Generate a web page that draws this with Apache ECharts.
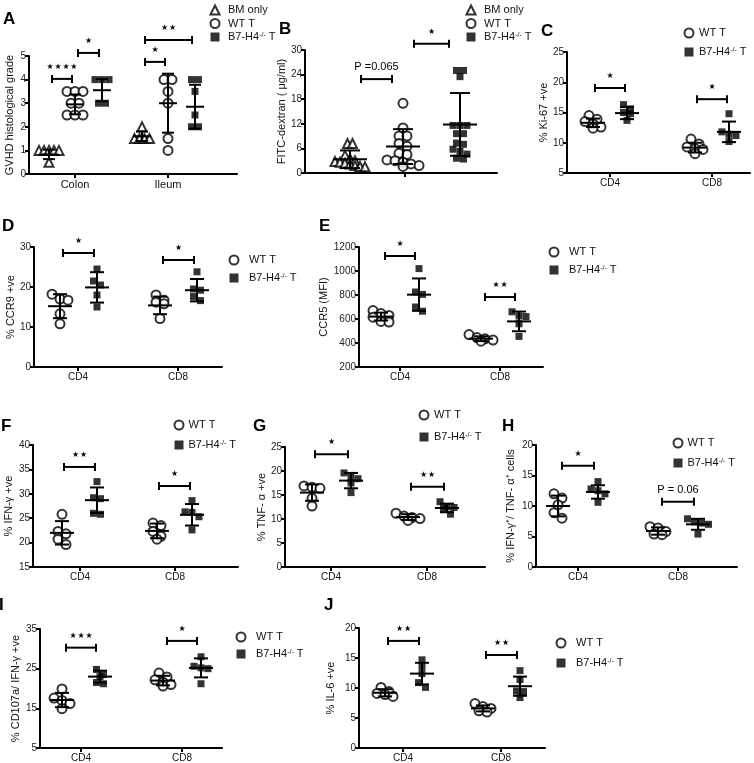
<!DOCTYPE html>
<html><head><meta charset="utf-8">
<script src="https://cdn.jsdelivr.net/npm/echarts@6/dist/echarts.min.js"></script>
<style>html,body{margin:0;padding:0;background:#fff}#c{width:754px;height:763px}</style>
</head><body><div id="c"></div>
<script>
// ================= DATA =================
const groupNames = ['BM only', 'WT T', 'B7-H4-/- T'];

// A
const aCategories = ['Colon', 'Ileum'];
const aBMOnly = [[1, 1, 1, 1, 1, 0.5], [2, 1.5, 1.5, 1.5, 1.5]];
const aWT = [[3.5, 3.5, 3.5, 3, 3, 2.5, 2.5, 2.5], [4, 4, 3.5, 3, 1.5, 1]];
const aB7 = [[4, 4, 4, 3, 3], [4, 4, 3.5, 2.5, 2, 2]];
const aMean = [[0.83, 1.6], [2.95, 3.0], [3.55, 2.85]];
const aSd = [[0.2, 0.2], [0.42, 1.25], [0.47, 0.93]];
const aYTicks = [0, 1, 2, 3, 4, 5];
const aSig = [[0, 0, 1, 4.03, '★★★★'], [0, 1, 2, 5.13, '★'], [1, 0, 1, 4.75, '★'], [1, 0, 2, 5.68, '★★']];

// B
const bCategories = [''];
const bBMOnly = [[7.2, 7.2, 4.3, 3.5, 3.0, 2.8, 2.6, 2.4, 2.2, 1.8, 1.6, 1.5]];
const bWT = [[17, 11, 9, 9, 7.2, 6.5, 4.8, 4.5, 3.2, 3.0, 2.6, 2.2, 1.8, 1.6]];
const bB7 = [[25, 25, 23.5, 11.6, 11.6, 11.6, 9.6, 9.6, 7.3, 7.0, 5.8, 5.3, 4.6, 3.6, 3.4]];
const bMean = [[3.35], [6.45], [11.85]];
const bSd = [[2.15], [4.25], [7.65]];
const bYTicks = [0, 6, 12, 18, 24, 30];
const bSig = [[0, 0, 1, 22.9, 'P =0.065'], [0, 1, 2, 31.5, '★']];

// C
const cCategories = ['CD4', 'CD8'];
const cWT = [[14.5, 13.9, 13.5, 13.1, 12.6, 12.4], [10.6, 9.8, 9.3, 9.0, 8.9, 8.2]];
const cB7 = [[16.3, 15.6, 15.0, 14.8, 13.7], [14.8, 11.8, 11.4, 11.2, 10.2]];
const cMean = [[13.3, 9.2], [14.9, 11.8]];
const cSd = [[0.7, 0.8], [1.0, 1.7]];
const cYTicks = [5, 10, 15, 20, 25];
const cSig = [[0, 0, 1, 19.05, '★'], [1, 0, 1, 17.2, '★']];

// D
const dCategories = ['CD4', 'CD8'];
const dWT = [[18.2, 17, 16.7, 13.3, 10.8], [18, 16.7, 16.2, 15.8, 12.1]];
const dB7 = [[24.5, 21.5, 20.5, 18, 15], [23.8, 19.5, 19.2, 17.6, 16.6]];
const dMean = [[15.2, 15.4], [19.9, 19.2]];
const dSd = [[3.0, 2.2], [3.8, 2.8]];
const dYTicks = [0, 10, 20, 30];
const dSig = [[0, 0, 1, 28.5, '★'], [1, 0, 1, 26.75, '★']];

// E
const eCategories = ['CD4', 'CD8'];
const eWT = [[670, 645, 630, 615, 580, 575], [470, 445, 435, 425, 415]];
const eB7 = [[1020, 825, 805, 700, 665], [660, 625, 620, 560, 455]];
const eMean = [[620, 436], [803, 580]];
const eSd = [[33, 20], [135, 82]];
const eYTicks = [200, 400, 600, 800, 1000, 1200];
const eSig = [[0, 0, 1, 1125, '★'], [1, 0, 1, 783, '★★']];

// F
const fCategories = ['CD4', 'CD8'];
const fWT = [[25.8, 22.3, 21.8, 20.7, 19.6], [24.0, 23.5, 22.3, 21.3, 20.7]];
const fB7 = [[32.5, 29.2, 29.0, 26.0, 25.8], [28.6, 26.3, 26.2, 25.3, 22.6]];
const fMean = [[22.0, 22.4], [28.7, 25.7]];
const fSd = [[2.4, 1.5], [2.6, 2.2]];
const fYTicks = [15, 20, 25, 30, 35, 40];
const fSig = [[0, 0, 1, 35.5, '★★'], [1, 0, 1, 31.6, '★']];

// G
const gCategories = ['CD4', 'CD8'];
const gWT = [[16.9, 16.6, 16.4, 14.3, 12.7], [11.2, 10.6, 10.3, 10.1, 9.7]];
const gB7 = [[19.6, 18.8, 18.4, 17.5, 15.5], [13.6, 12.6, 12.4, 12.2, 11.0]];
const gMean = [[15.5, 10.4], [18.0, 12.3]];
const gSd = [[1.7, 0.6], [1.6, 0.9]];
const gYTicks = [0, 5, 10, 15, 20, 25];
const gSig = [[0, 0, 1, 23.5, '★'], [1, 0, 1, 16.7, '★★']];

// H
const hCategories = ['CD4', 'CD8'];
const hWT = [[12.0, 11.3, 10.2, 8.9, 8.0], [6.6, 6.4, 5.8, 5.4, 5.3]];
const hB7 = [[14.0, 12.8, 12.5, 12.0, 10.6], [7.9, 7.4, 7.2, 7.0, 5.4]];
const hMean = [[10.0, 5.9], [12.3, 7.0]];
const hSd = [[1.7, 0.6], [1.1, 0.9]];
const hYTicks = [0, 5, 10, 15, 20];
const hSig = [[0, 0, 1, 16.6, '★'], [1, 0, 1, 10.7, 'P = 0.06']];

// I
const iCategories = ['CD4', 'CD8'];
const iWT = [[19.9, 17.6, 17.0, 16.2, 14.9], [23.9, 22.9, 22.2, 21.6, 21.0, 20.6]];
const iB7 = [[24.8, 23.5, 23.0, 21.5, 21.2], [28.0, 25.6, 25.2, 25.0, 21.2]];
const iMean = [[17.1, 22.0], [23.0, 25.2]];
const iSd = [[1.8, 1.2], [1.5, 2.4]];
const iYTicks = [5, 15, 25, 35];
const iSig = [[0, 0, 1, 30.3, '★★★'], [1, 0, 1, 32.0, '★']];

// J
const jCategories = ['CD4', 'CD8'];
const jWT = [[10.1, 9.4, 9.1, 8.9, 8.6], [7.4, 6.9, 6.6, 6.2, 6.0]];
const jB7 = [[14.7, 13.6, 12.4, 10.9, 10.1], [12.9, 11.4, 9.5, 9.4, 8.4]];
const jMean = [[9.2, 6.6], [12.4, 10.3]];
const jSd = [[0.6, 0.5], [1.8, 1.6]];
const jYTicks = [0, 5, 10, 15, 20];
const jSig = [[0, 0, 1, 17.85, '★★'], [1, 0, 1, 15.5, '★★']];

// ================= PANELS =================
const panels = [
  {key: 'A', cats: aCategories, groups: [0, 1, 2], values: [aBMOnly, aWT, aB7], mean: aMean, sd: aSd, ticks: aYTicks, sig: aSig, yName: 'GVHD histological grade'},
  {key: 'B', cats: bCategories, groups: [0, 1, 2], values: [bBMOnly, bWT, bB7], mean: bMean, sd: bSd, ticks: bYTicks, sig: bSig, yName: 'FITC-dextran ( μg/ml)'},
  {key: 'C', cats: cCategories, groups: [1, 2], values: [cWT, cB7], mean: cMean, sd: cSd, ticks: cYTicks, sig: cSig, yName: '% Ki-67 +ve'},
  {key: 'D', cats: dCategories, groups: [1, 2], values: [dWT, dB7], mean: dMean, sd: dSd, ticks: dYTicks, sig: dSig, yName: '% CCR9 +ve'},
  {key: 'E', cats: eCategories, groups: [1, 2], values: [eWT, eB7], mean: eMean, sd: eSd, ticks: eYTicks, sig: eSig, yName: 'CCR5 (MFI)'},
  {key: 'F', cats: fCategories, groups: [1, 2], values: [fWT, fB7], mean: fMean, sd: fSd, ticks: fYTicks, sig: fSig, yName: '% IFN-γ +ve'},
  {key: 'G', cats: gCategories, groups: [1, 2], values: [gWT, gB7], mean: gMean, sd: gSd, ticks: gYTicks, sig: gSig, yName: '% TNF- α +ve'},
  {key: 'H', cats: hCategories, groups: [1, 2], values: [hWT, hB7], mean: hMean, sd: hSd, ticks: hYTicks, sig: hSig, yName: '% IFN-γ⁺/ TNF- α⁺ cells'},
  {key: 'I', cats: iCategories, groups: [1, 2], values: [iWT, iB7], mean: iMean, sd: iSd, ticks: iYTicks, sig: iSig, yName: '% CD107a/ IFN-γ +ve'},
  {key: 'J', cats: jCategories, groups: [1, 2], values: [jWT, jB7], mean: jMean, sd: jSd, ticks: jYTicks, sig: jSig, yName: '% IL-6 +ve'}
];

// ================= LAYOUT (pixels) =================
const layout = {
  A: {L: 29, R: 237, T: 56, B: 174, c0: 75, s: 93, off: [-26, 0, 27], nameGap: 14, xFont: 11, meanHalf: 9, capHalf: 6, inset: 3, label: [9, 20], lg: {x: 214, y: 10, dy: 13.5, tx: 227}},
  B: {L: 305, R: 497, T: 50, B: 173, c0: 405, s: 100, off: [-55, -2, 55], nameGap: 16, xFont: 10, meanHalf: 17, capHalf: 10, inset: 11, label: [285, 30], lg: {x: 470, y: 10, dy: 13.5, tx: 483}},
  C: {L: 567, R: 750, T: 52, B: 173, c0: 610, s: 102, off: [-17, 17], nameGap: 18, xFont: 10, meanHalf: 12, capHalf: 7, inset: 2, label: [547, 32], lg: {x: 688, y: 33, dy: 19, tx: 698}},
  D: {L: 34, R: 222, T: 247, B: 367, c0: 78, s: 100, off: [-18, 19], nameGap: 18, xFont: 10, meanHalf: 12, capHalf: 7, inset: 3, label: [8, 227], lg: {x: 233, y: 260, dy: 18, tx: 248}},
  E: {L: 359, R: 543, T: 247, B: 367, c0: 400, s: 100, off: [-19, 19], nameGap: 30, xFont: 10, meanHalf: 12, capHalf: 7, inset: 4, label: [325, 227], lg: {x: 553, y: 252, dy: 18, tx: 568}},
  F: {L: 33, R: 238, T: 445, B: 567, c0: 80, s: 95, off: [-18, 17], nameGap: 19, xFont: 10, meanHalf: 12, capHalf: 7, inset: 2, label: [7, 427], lg: {x: 178, y: 425, dy: 20, tx: 187}},
  G: {L: 285, R: 485, T: 447, B: 567, c0: 331, s: 96, off: [-19, 20], nameGap: 17, xFont: 10, meanHalf: 12, capHalf: 7, inset: 3, label: [259, 427], lg: {x: 423, y: 415, dy: 22, tx: 433}},
  H: {L: 536, R: 737, T: 445, B: 567, c0: 578, s: 100, off: [-20, 20], nameGap: 20, xFont: 10, meanHalf: 12, capHalf: 7, inset: 4, label: [508, 427], lg: {x: 677, y: 443, dy: 20, tx: 686}},
  I: {L: 40, R: 222, T: 629, B: 750, c0: 81, s: 101, off: [-19, 19], nameGap: 19, xFont: 10, meanHalf: 12, capHalf: 7, inset: 4, label: [5, 606], lg: {x: 240, y: 637, dy: 17, tx: 255}},
  J: {L: 359, R: 545, T: 628, B: 749, c0: 403, s: 98, off: [-18, 19], nameGap: 23, xFont: 10, meanHalf: 12, capHalf: 7, inset: 3, label: [330, 606], lg: {x: 560, y: 643, dy: 20, tx: 575}}
};

// ================= STYLES =================
const FONT = '"Liberation Sans", Arial, Helvetica, sans-serif';
const STARFONT = '"DejaVu Sans", sans-serif';
const groupStyle = [
  {symbol: 'triangle', size: 9, item: {color: '#fff', borderColor: '#000', borderWidth: 2}, spacing: 5},
  {symbol: 'circle', size: 9, item: {color: '#fff', borderColor: '#000', borderWidth: 2}, spacing: 8},
  {symbol: 'rect', size: 7, item: {color: '#000'}, spacing: 7}
];

// beeswarm: spread points of similar value horizontally (pixel offsets)
function swarm(vals, pxPerUnit, spacing) {
  const idx = vals.map((v, i) => i).sort((a, b) => vals[b] - vals[a]);
  const out = new Array(vals.length).fill(0);
  let row = [];
  const flush = () => {
    const n = row.length;
    row.forEach((id, k) => { out[id] = (k - (n - 1) / 2) * spacing; });
    row = [];
  };
  idx.forEach(id => {
    if (row.length && Math.abs(vals[row[0]] - vals[id]) * pxPerUnit > 6) flush();
    row.push(id);
  });
  flush();
  return out;
}

const grids = [], xAxes = [], yAxes = [], series = [], legends = [], graphics = [];

panels.forEach((p, k) => {
  const lo = layout[p.key];
  const yMin = p.ticks[0], yMax = p.ticks[p.ticks.length - 1];
  const pxPerUnit = (lo.B - lo.T) / (yMax - yMin);
  const catIdx = p.cats.map((c, i) => i);
  grids.push({left: lo.L, top: lo.T, width: lo.R - lo.L, height: lo.B - lo.T, containLabel: false});
  xAxes.push({
    gridIndex: k, type: 'value',
    min: (lo.L - lo.c0) / lo.s, max: (lo.R - lo.c0) / lo.s,
    axisLine: {onZero: false, lineStyle: {color: '#000', width: 2}},
    axisTick: {show: true, length: 4, customValues: catIdx, lineStyle: {color: '#000', width: 2}},
    axisLabel: {customValues: catIdx, formatter: v => p.cats[Math.round(v)] || '', fontSize: lo.xFont, fontFamily: FONT, color: '#111', margin: 5},
    splitLine: {show: false}
  });
  yAxes.push({
    gridIndex: k, type: 'value', min: yMin, max: yMax,
    axisLine: {show: true, onZero: false, lineStyle: {color: '#000', width: 2}},
    axisTick: {show: true, length: 4, customValues: p.ticks, lineStyle: {color: '#000', width: 2}},
    axisLabel: {customValues: p.ticks, formatter: v => String(v), fontSize: 10, fontFamily: FONT, color: '#222', margin: 3},
    splitLine: {show: false},
    name: p.yName, nameLocation: 'middle', nameRotate: 90, nameGap: lo.nameGap,
    nameTextStyle: {fontSize: 11, fontFamily: FONT, color: '#111'}
  });

  // points
  p.groups.forEach((g, gi) => {
    const st = groupStyle[g];
    const data = [];
    p.values[gi].forEach((vals, c) => {
      const sw = swarm(vals, pxPerUnit, st.spacing);
      vals.forEach((v, j) => data.push([c + (lo.off[gi] + sw[j]) / lo.s, v]));
    });
    series.push({
      type: 'scatter', name: groupNames[g], xAxisIndex: k, yAxisIndex: k,
      symbol: st.symbol, symbolSize: st.size, itemStyle: st.item, data, z: 2, silent: true
    });
  });

  // mean ± SD
  const msData = [];
  p.groups.forEach((g, gi) => {
    p.cats.forEach((c, ci) => msData.push([ci + lo.off[gi] / lo.s, p.mean[gi][ci], p.sd[gi][ci]]));
  });
  series.push({
    type: 'custom', name: 'mean-sd-' + p.key, xAxisIndex: k, yAxisIndex: k, z: 3, silent: true, clip: false,
    data: msData,
    renderItem: (params, api) => {
      const x = api.value(0), m = api.value(1), sd = api.value(2);
      const pm = api.coord([x, m]), pt = api.coord([x, m + sd]), pb = api.coord([x, m - sd]);
      const st = {stroke: '#000', lineWidth: 2};
      return {type: 'group', children: [
        {type: 'line', shape: {x1: pm[0] - lo.meanHalf, y1: pm[1], x2: pm[0] + lo.meanHalf, y2: pm[1]}, style: st},
        {type: 'line', shape: {x1: pm[0], y1: pt[1], x2: pm[0], y2: pb[1]}, style: st},
        {type: 'line', shape: {x1: pm[0] - lo.capHalf, y1: pt[1], x2: pm[0] + lo.capHalf, y2: pt[1]}, style: st},
        {type: 'line', shape: {x1: pm[0] - lo.capHalf, y1: pb[1], x2: pm[0] + lo.capHalf, y2: pb[1]}, style: st}
      ]};
    }
  });

  // significance brackets
  const sigData = p.sig.map(s => [s[0] + lo.off[s[1]] / lo.s, s[0] + lo.off[s[2]] / lo.s, s[3]]);
  series.push({
    type: 'custom', name: 'sig-' + p.key, xAxisIndex: k, yAxisIndex: k, z: 4, silent: true, clip: false,
    data: sigData,
    renderItem: (params, api) => {
      const x1 = api.value(0), x2 = api.value(1), y = api.value(2);
      const p1 = api.coord([x1, y]), p2 = api.coord([x2, y]);
      const a = p1[0] + lo.inset, b = p2[0] - lo.inset, yy = p1[1];
      const txt = p.sig[params.dataIndex][4];
      const isStar = txt.indexOf('★') >= 0;
      const st = {stroke: '#000', lineWidth: 2};
      return {type: 'group', children: [
        {type: 'line', shape: {x1: a, y1: yy, x2: b, y2: yy}, style: st},
        {type: 'line', shape: {x1: a, y1: yy - 4, x2: a, y2: yy + 4}, style: st},
        {type: 'line', shape: {x1: b, y1: yy - 4, x2: b, y2: yy + 4}, style: st},
        {type: 'text', style: {
          text: isStar ? txt.split('').join('\u200A') : txt,
          x: (a + b) / 2, y: yy - 12, align: 'center', verticalAlign: 'middle',
          font: isStar ? ('8px ' + STARFONT) : ('11px ' + FONT), fill: '#000'
        }}
      ]};
    }
  });

  // legend
  const gap = Math.max(0, lo.lg.tx - lo.lg.x - 9.5);
  legends.push({
    orient: 'vertical', left: lo.lg.x - 4.5, top: lo.lg.y - 5.5, padding: 0,
    itemWidth: 9, itemHeight: 9, itemGap: lo.lg.dy - 11, selectedMode: false,
    itemStyle: {borderWidth: 2},
    data: p.groups.map(g => groupNames[g]),
    formatter: n => '{g| }' + (n === 'B7-H4-/- T' ? 'B7-H4{s|-/-} T' : n),
    textStyle: {fontSize: 11, fontFamily: FONT, color: '#111', lineHeight: 11,
      rich: {
        g: {width: gap, fontSize: 11, lineHeight: 11},
        s: {fontSize: 7, fontFamily: FONT, color: '#111', lineHeight: 11, verticalAlign: 'top'}
      }}
  });

  // panel letter
  graphics.push({type: 'text', left: lo.label[0] - 6, top: lo.label[1] - 9,
    style: {text: p.key, font: 'bold 17px ' + FONT, fill: '#000'}});
});

const chart = echarts.init(document.getElementById('c'), null, {renderer: 'canvas'});
chart.setOption({
  animation: false,
  backgroundColor: '#fff',
  grid: grids, xAxis: xAxes, yAxis: yAxes, series, legend: legends, graphic: graphics
});
</script></body></html>
